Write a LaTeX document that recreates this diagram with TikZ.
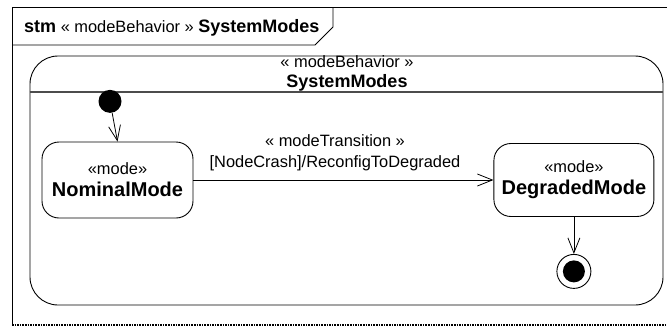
\documentclass[tikz,border=0pt]{standalone}
\usepackage{fontspec}
\setmainfont{Liberation Sans}
\usetikzlibrary{positioning,arrows.meta}

\newcommand{\regtext}{\fontsize{16.4}{20}\selectfont}
\newcommand{\titletext}{\fontsize{18}{20}\selectfont\bfseries}
\newcommand{\modetext}{\fontsize{20}{22}\selectfont\bfseries}

\tikzset{
  frameline/.style={line width=0.9pt},
  statebox/.style={draw, rounded corners=28pt, line width=0.9pt, minimum width=633pt, minimum height=249pt, inner sep=0pt},
  mode/.style={draw, rounded corners=17pt, line width=0.9pt, align=center, inner sep=0pt, font=\regtext},
  initial/.style={circle, fill=black, minimum size=23pt, inner sep=0pt},
  final/.style={circle, draw, line width=0.9pt, minimum size=34pt, inner sep=0pt,
    path picture={\fill[black] (path picture bounding box.center) circle (11pt);}},
  trans/.style={-{Straight Barb[length=15pt,width=12pt]}, line width=0.8pt},
}

\begin{document}
\begin{tikzpicture}[x=1pt, y=-1pt]
	\useasboundingbox (0,0) rectangle (667,327);
	% Frame
	\draw[frameline] (667,7) -- (12,7) -- (12,325);
	\draw[line width=1.6pt, densely dotted] (12,325) -- (667,325);
	\draw[frameline] (12,45) -- (315,45) -- (333,27) -- (333,7);
	\node[anchor=base west, inner sep=0pt, font=\regtext] (frametitle) at (24,32)
		{{\titletext stm} « modeBehavior » {\titletext SystemModes}};
	% Define nodes
	\node[statebox] (sysmodes) at (346.5,180.5) {};
	\draw[line width=1.2pt, black!70] (sysmodes.west |- 0,92) -- (sysmodes.east |- 0,92);
	\node[align=center, font=\regtext] (statetitle) at (347,73) {« modeBehavior »\\{\titletext SystemModes}};
	\node[mode, minimum width=151pt, minimum height=76pt] (nominal) at (117.5,180) {«mode»\\[2pt]{\modetext NominalMode}};
	\node[mode, minimum width=160pt, minimum height=73pt, right=300pt of nominal] (degraded) {«mode»\\[2pt]{\modetext DegradedMode}};
	\node[initial, above=28.5pt of nominal, xshift=-7.5pt] (init) {};
	\node[final, below=37pt of degraded] (final) {};
	\node[align=center, font=\regtext] (translabel) at (335,153) {« modeTransition »\\[1pt]{[NodeCrash]/ReconfigToDegraded}};
	% Connect the nodes
	\draw[trans] (init) -- (nominal.north);
	\draw[trans] (nominal.east) -- (degraded.west);
	\draw[trans] (degraded.south) -- (final.north);
\end{tikzpicture}
\end{document}
